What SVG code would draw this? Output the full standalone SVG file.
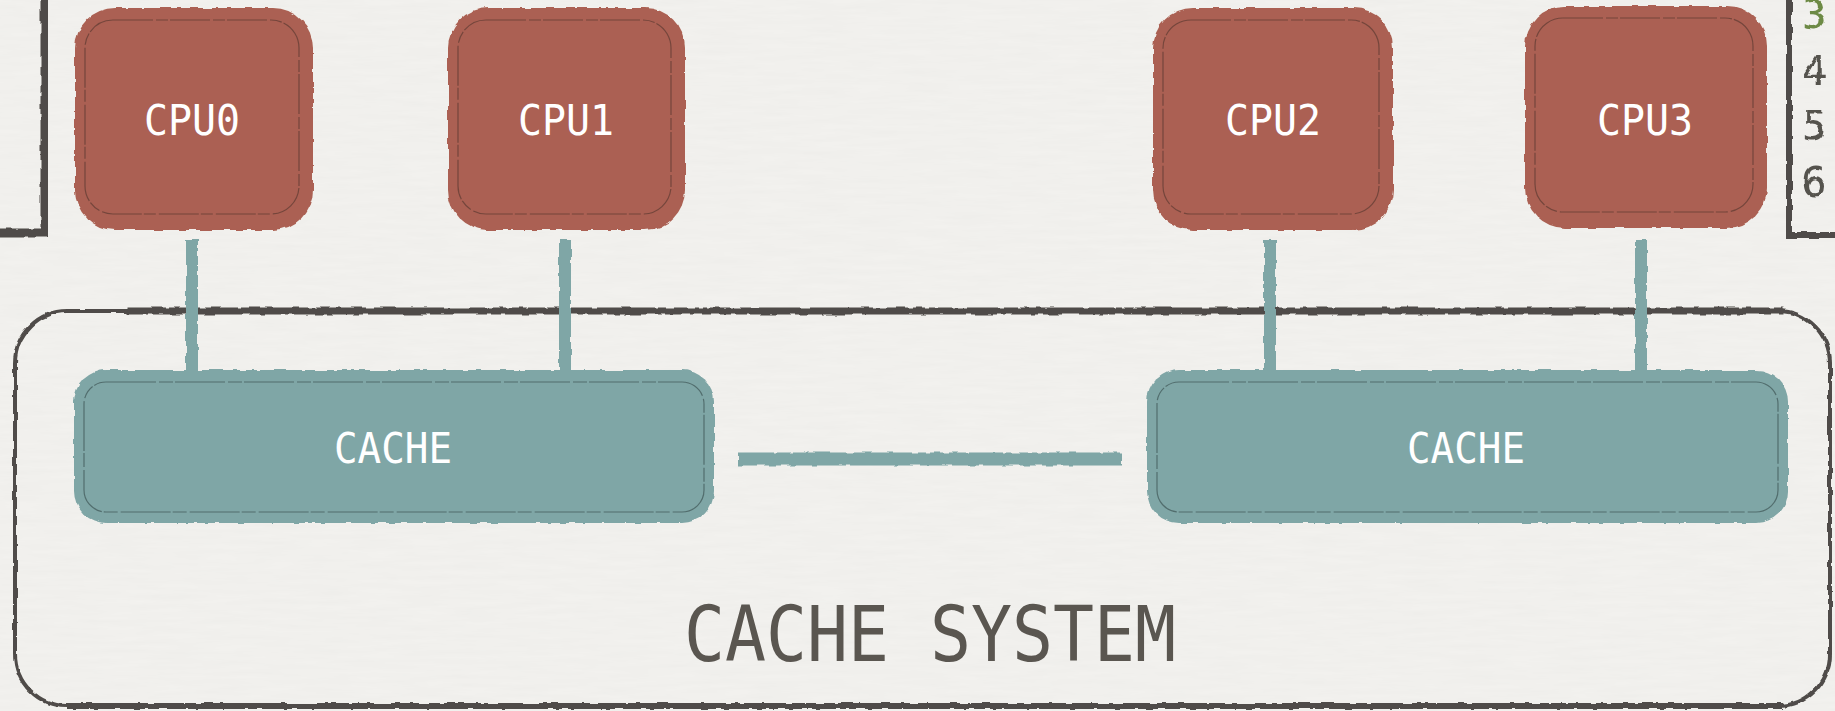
<svg xmlns="http://www.w3.org/2000/svg" width="1835" height="711" viewBox="0 0 1835 711">
  <defs>
    <filter id="rough" x="-5%" y="-5%" width="110%" height="110%">
      <feTurbulence type="fractalNoise" baseFrequency="0.09" numOctaves="2" seed="3" result="n"/>
      <feDisplacementMap in="SourceGraphic" in2="n" scale="4" xChannelSelector="R" yChannelSelector="G"/>
    </filter>
    <filter id="paper" x="0" y="0" width="100%" height="100%">
      <feTurbulence type="fractalNoise" baseFrequency="0.02 0.2" numOctaves="3" seed="7" result="t"/>
      <feColorMatrix in="t" type="matrix" values="0 0 0 0 0.6  0 0 0 0 0.6  0 0 0 0 0.58  0 0 0 0.12 0"/>
    </filter>
    <style>
      .cpu { fill: #ab6152; }
      .cpu-in { fill: none; stroke: #5e3a32; stroke-width: 1.2; stroke-dasharray: 40 3 12 2; opacity: 0.7; }
      .cache { fill: #7fa6a6; }
      .cache-in { fill: none; stroke: #3e5656; stroke-width: 1.2; stroke-dasharray: 50 3 14 2; opacity: 0.7; }
      .lbl { font-family: "DejaVu Sans Mono", "Liberation Mono", monospace; font-size: 42px; fill: #ffffff; text-anchor: middle; }
      .frame { fill: none; stroke: #4f4c48; stroke-linecap: square; }
      .wire { stroke: #7fa6a6; fill: none; }
      .num { font-family: "DejaVu Sans Mono", "Liberation Mono", monospace; font-size: 41px; fill: #55524d; }
    </style>
  </defs>

  <!-- paper background -->
  <rect x="0" y="0" width="1835" height="711" fill="#f3f2ef"/>
  <rect x="0" y="0" width="1835" height="711" filter="url(#paper)"/>

  <!-- side brackets -->
  <g id="left-bracket" filter="url(#rough)">
    <path class="frame" d="M45 -5 V233 H-5" stroke-width="9"/>
  </g>
  <g id="right-bracket" filter="url(#rough)">
    <path class="frame" d="M1789 -5 V235 H1840" stroke-width="6"/>
    <text class="num" x="1802" y="29" style="fill:#6d8a45">3</text>
    <text class="num" x="1802" y="85">4</text>
    <text class="num" x="1802" y="140">5</text>
    <text class="num" x="1802" y="196">6</text>
  </g>

  <!-- cache system boundary -->
  <g id="cache-system">
    <g filter="url(#rough)">
      <rect class="frame" x="15" y="311" width="1815" height="395" rx="52" stroke-width="4"/>
      <path class="frame" d="M130 311 H1780" stroke-width="7"/>
      <path class="frame" d="M70 706 H1780" stroke-width="6"/>
    </g>
    <text x="930" y="661" font-family="DejaVu Sans Mono, Liberation Mono, monospace" font-size="76" fill="#5a5650" text-anchor="middle" textLength="492" lengthAdjust="spacingAndGlyphs">CACHE SYSTEM</text>
  </g>

  <!-- connectors -->
  <g id="connectors" filter="url(#rough)">
    <path class="wire" d="M192 240 V372" stroke-width="12"/>
    <path class="wire" d="M565 240 V372" stroke-width="12"/>
    <path class="wire" d="M1270 240 V372" stroke-width="12"/>
    <path class="wire" d="M1641 240 V372" stroke-width="12"/>
    <path class="wire" d="M738 459 H1122" stroke-width="13"/>
  </g>

  <!-- CPUs -->
  <g id="cpu0">
    <rect class="cpu" x="75" y="8" width="238" height="222" rx="40" filter="url(#rough)"/>
    <rect class="cpu-in" x="85" y="20" width="214" height="194" rx="28"/>
    <text class="lbl" x="192" y="135" textLength="96" lengthAdjust="spacingAndGlyphs">CPU0</text>
  </g>
  <g id="cpu1">
    <rect class="cpu" x="448" y="8" width="237" height="222" rx="40" filter="url(#rough)"/>
    <rect class="cpu-in" x="458" y="20" width="213" height="194" rx="28"/>
    <text class="lbl" x="566" y="135" textLength="96" lengthAdjust="spacingAndGlyphs">CPU1</text>
  </g>
  <g id="cpu2">
    <rect class="cpu" x="1153" y="8" width="240" height="222" rx="40" filter="url(#rough)"/>
    <rect class="cpu-in" x="1163" y="20" width="216" height="194" rx="28"/>
    <text class="lbl" x="1273" y="135" textLength="96" lengthAdjust="spacingAndGlyphs">CPU2</text>
  </g>
  <g id="cpu3">
    <rect class="cpu" x="1525" y="6" width="242" height="222" rx="40" filter="url(#rough)"/>
    <rect class="cpu-in" x="1535" y="18" width="218" height="194" rx="28"/>
    <text class="lbl" x="1645" y="135" textLength="96" lengthAdjust="spacingAndGlyphs">CPU3</text>
  </g>

  <!-- caches -->
  <g id="cache-left">
    <rect class="cache" x="74" y="370" width="640" height="153" rx="32" filter="url(#rough)"/>
    <rect class="cache-in" x="84" y="382" width="620" height="130" rx="22"/>
    <text class="lbl" x="393" y="463" textLength="118" lengthAdjust="spacingAndGlyphs">CACHE</text>
  </g>
  <g id="cache-right">
    <rect class="cache" x="1147" y="370" width="641" height="153" rx="32" filter="url(#rough)"/>
    <rect class="cache-in" x="1157" y="382" width="621" height="130" rx="22"/>
    <text class="lbl" x="1466" y="463" textLength="118" lengthAdjust="spacingAndGlyphs">CACHE</text>
  </g>
</svg>
